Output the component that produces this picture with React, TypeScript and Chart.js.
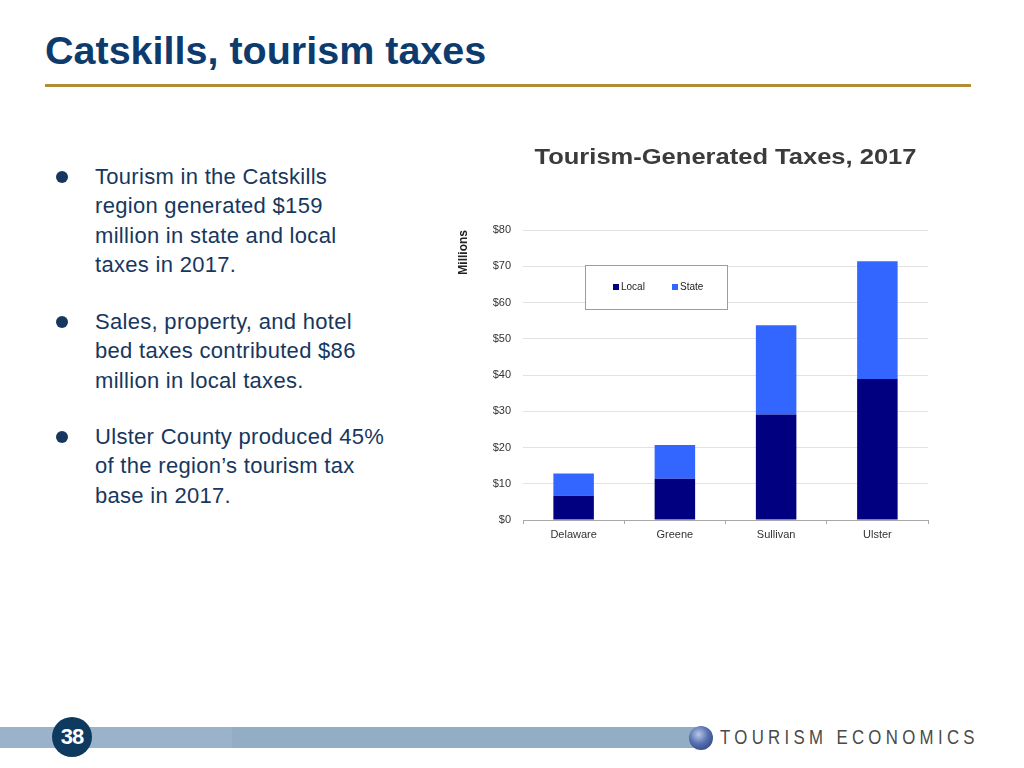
import React, { useEffect, useRef } from "react";
import { Chart, registerables } from "chart.js";

Chart.register(...registerables);

// ---- data ----
const categories = ["Delaware", "Greene", "Sullivan", "Ulster"];
const localTaxes = [6.7, 11.4, 29.1, 38.9];
const stateTaxes = [6.1, 9.3, 24.6, 32.5];
const seriesNames = ["Local", "State"];
const seriesColors = ["#000080", "#3366FF"];
const yMin = 0;
const yMax = 80;
const yStep = 10;
const chartTitle = "Tourism-Generated Taxes, 2017";
const yAxisTitle = "Millions";
const slideTitle = "Catskills, tourism taxes";
const bulletPoints = [
  ["Tourism in the Catskills", "region generated $159", "million in state and local", "taxes in 2017."],
  ["Sales, property, and hotel", "bed taxes contributed $86", "million in local taxes."],
  ["Ulster County produced 45%", "of the region\u2019s tourism tax", "base in 2017."],
];
const pageNumber = "38";
const brandName = "TOURISM ECONOMICS";

const SANS = "'Liberation Sans', Arial, Helvetica, sans-serif";

const boxLegend = {
  id: "boxLegend",
  afterDraw(chart: any, _args: any, opts: any) {
    const { ctx, chartArea } = chart;
    const x = Math.round(chartArea.left + opts.left);
    const y = Math.round(chartArea.top + opts.top);
    ctx.save();
    ctx.fillStyle = "#ffffff";
    ctx.fillRect(x, y, opts.width, opts.height);
    ctx.strokeStyle = "#9c9c9c";
    ctx.lineWidth = 1;
    ctx.strokeRect(x + 0.5, y + 0.5, opts.width, opts.height);
    ctx.font = `10px ${SANS}`;
    ctx.textBaseline = "middle";
    ctx.textAlign = "left";
    const cy = y + opts.height / 2;
    chart.data.datasets.forEach((ds: any, i: number) => {
      const ix = x + opts.itemX[i];
      ctx.fillStyle = ds.backgroundColor;
      ctx.fillRect(ix, cy - 3, 6, 6);
      ctx.fillStyle = "#222222";
      ctx.fillText(ds.label, ix + 8, cy + 0.5);
    });
    ctx.restore();
  },
};

const wideTitle = {
  id: "wideTitle",
  afterDraw(chart: any, _args: any, opts: any) {
    const { ctx, chartArea } = chart;
    ctx.save();
    ctx.font = `bold ${opts.size}px ${SANS}`;
    ctx.fillStyle = opts.color;
    ctx.textAlign = "center";
    ctx.textBaseline = "alphabetic";
    ctx.translate((chartArea.left + chartArea.right) / 2, opts.baseline);
    ctx.scale(opts.stretch, 1);
    ctx.fillText(opts.text, 0, 0);
    ctx.restore();
  },
};

function TaxChart() {
  const ref = useRef<HTMLCanvasElement | null>(null);
  useEffect(() => {
    if (!ref.current) return;
    const chart = new Chart(ref.current, {
      type: "bar",
      data: {
        labels: categories,
        datasets: [
          { label: seriesNames[0], data: localTaxes, backgroundColor: seriesColors[0], borderWidth: 0, barPercentage: 0.4, categoryPercentage: 1 },
          { label: seriesNames[1], data: stateTaxes, backgroundColor: seriesColors[1], borderWidth: 0, barPercentage: 0.4, categoryPercentage: 1 },
        ],
      },
      options: {
        responsive: false,
        animation: false,
        layout: { padding: { left: 0, right: 84, top: 100, bottom: 0 } },
        plugins: {
          legend: { display: false },
          tooltip: { enabled: false },
          title: { display: false },
          wideTitle: { text: chartTitle, size: 22, stretch: 1.16, baseline: 33.5, color: "#3b3b3b" },
          boxLegend: { left: 62, top: 35, width: 142, height: 44, itemX: [28, 87] },
        } as any,
        scales: {
          x: {
            stacked: true,
            grid: { display: true, drawOnChartArea: false, drawTicks: true, tickLength: 4, offset: true, color: "#a8a8a8" },
            border: { display: true, color: "#a8a8a8" },
            ticks: { padding: 4, color: "#333333", font: { family: SANS, size: 11 } },
            afterFit: (s: any) => { s.height = 30; },
          },
          y: {
            stacked: true,
            min: yMin,
            max: yMax,
            ticks: { stepSize: yStep, padding: 12, color: "#333333", font: { family: SANS, size: 11 }, callback: (v: any) => "$" + v },
            grid: { color: "#e2e2e2", drawTicks: false },
            border: { display: false },
            title: { display: true, text: yAxisTitle, align: "end", color: "#222222", font: { family: SANS, size: 12, weight: "bold" }, padding: { top: 16, bottom: 0 } },
            afterFit: (s: any) => { s.width = 83; },
          },
        } as any,
      },
      plugins: [boxLegend as any, wideTitle as any],
    });
    return () => chart.destroy();
  }, []);
  return (
    <canvas
      ref={ref}
      width={572}
      height={420}
      style={{ position: "absolute", left: 440, top: 130, width: 572, height: 420 }}
    />
  );
}

export default function App() {
  const paragraphTops = [162, 307, 422];
  return (
    <div style={{ position: "absolute", left: 0, top: 0, width: 1024, height: 768, background: "#ffffff", overflow: "hidden", fontFamily: SANS }}>
      <div style={{ position: "absolute", left: 45, top: 22, fontWeight: "bold", fontSize: 39.5, color: "#0d3b6e", lineHeight: "56px", whiteSpace: "nowrap" }}>
        {slideTitle}
      </div>
      <div style={{ position: "absolute", left: 45, top: 84, width: 926, height: 3, background: "#b38c38" }} />
      {bulletPoints.map((lines, i) => (
        <div key={i} style={{ position: "absolute", left: 0, top: paragraphTops[i] }}>
          <div style={{ position: "absolute", left: 56, top: 9, width: 12, height: 12, borderRadius: "50%", background: "#17375e" }} />
          <div style={{ position: "absolute", left: 95, top: 0, fontSize: 22, letterSpacing: 0.3, lineHeight: "29.3px", color: "#17375e", whiteSpace: "nowrap" }}>
            {lines.map((l, j) => (
              <div key={j}>{l}</div>
            ))}
          </div>
        </div>
      ))}
      <TaxChart />
      {/* footer */}
      <div style={{ position: "absolute", left: 0, top: 727, width: 232, height: 21, background: "#9bb3ca" }} />
      <div style={{ position: "absolute", left: 232, top: 727, width: 470, height: 21, background: "#93adc5" }} />
      <div style={{ position: "absolute", left: 52, top: 717, width: 40, height: 40, borderRadius: "50%", background: "#0e3a5f", color: "#ffffff", fontWeight: "bold", fontSize: 22, lineHeight: "40px", textAlign: "center", letterSpacing: -1 }}>
        {pageNumber}
      </div>
      <div style={{ position: "absolute", left: 689, top: 726, width: 24, height: 24, borderRadius: "50%", background: "radial-gradient(circle at 40% 35%, #b9c8e6 0%, #5570b0 45%, #22366e 100%)" }} />
      <div style={{ position: "absolute", left: 720, top: 724, fontSize: 21, letterSpacing: 5.4, color: "#4a4a4a", lineHeight: "26px", whiteSpace: "nowrap", transform: "scaleX(0.8)", transformOrigin: "left top" }}>
        {brandName}
      </div>
    </div>
  );
}
